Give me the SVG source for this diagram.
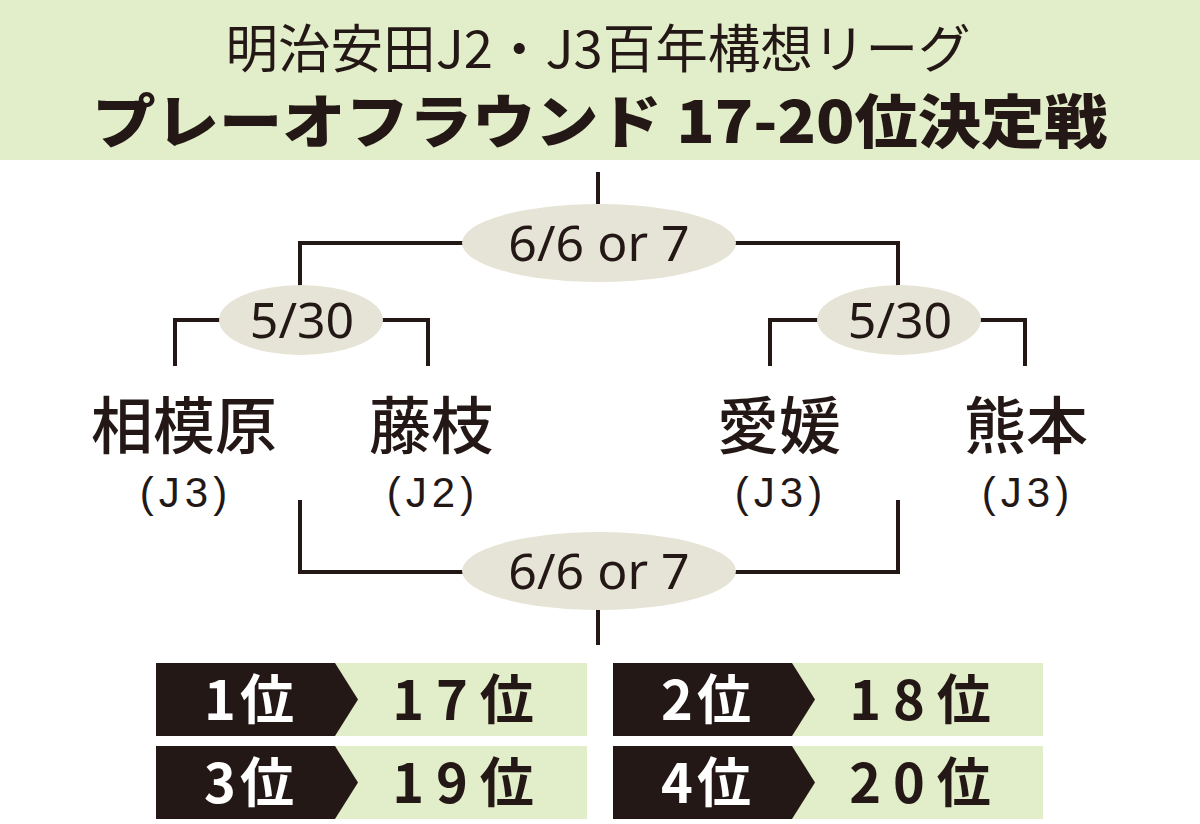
<svg xmlns="http://www.w3.org/2000/svg" width="1200" height="824" viewBox="0 0 1200 824">
<style>
.ln{stroke:#231815;stroke-width:4;fill:none}
.ov{fill:#e6e4d6}
.dt{font-family:"Noto Sans","Open Sans",sans-serif;font-size:50px;fill:#231815;text-anchor:middle}
.tm{font-family:"Noto Sans CJK JP",sans-serif;font-size:62px;font-weight:500;fill:#231815;text-anchor:middle}
.lg{font-family:"Liberation Sans","Noto Sans",sans-serif;font-size:42px;fill:#231815;text-anchor:middle;letter-spacing:5px}
.dk{fill:#231815}
.gr{fill:#e2edc9}
.rw{font-family:"Noto Sans CJK JP",sans-serif;font-size:54px;font-weight:700;fill:#fff;text-anchor:middle;letter-spacing:4px}
.rb{font-family:"Noto Sans CJK JP",sans-serif;font-size:54px;font-weight:700;fill:#231815;text-anchor:middle;letter-spacing:12px}
</style>
<rect width="1200" height="824" fill="#fff"/>
<g id="header">
<rect x="0" y="0" width="1200" height="160" fill="#e2edc9"/>
<text x="598" y="68" font-family="Noto Sans CJK JP,sans-serif" font-size="52" fill="#231815" text-anchor="middle" textLength="745" lengthAdjust="spacingAndGlyphs">明治安田J2・J3百年構想リーグ</text>
<text x="600" y="143" font-family="Noto Sans CJK JP,sans-serif" font-size="58" font-weight="900" fill="#231815" text-anchor="middle" textLength="1015" lengthAdjust="spacingAndGlyphs">プレーオフラウンド 17-20位決定戦</text>
</g>
<g id="connectors">
<path class="ln" d="M598 172V210"/>
<path class="ln" d="M300 290V243H898V290"/>
<path class="ln" d="M175 366V320H428V366"/>
<path class="ln" d="M770 366V320H1025V366"/>
<path class="ln" d="M300 500V572H898V500"/>
<path class="ln" d="M598 605V645"/>
</g>
<g id="final-top">
<ellipse class="ov" cx="599" cy="243" rx="137" ry="39"/>
<text class="dt" x="599" y="261">6/6 or 7</text>
</g>
<g id="semi-left">
<ellipse class="ov" cx="301" cy="320" rx="82" ry="35"/>
<text class="dt" x="302" y="338">5/30</text>
</g>
<g id="semi-right">
<ellipse class="ov" cx="899" cy="320" rx="82" ry="35"/>
<text class="dt" x="900" y="338">5/30</text>
</g>
<g id="final-bottom">
<ellipse class="ov" cx="599" cy="571" rx="137" ry="39"/>
<text class="dt" x="599" y="589">6/6 or 7</text>
</g>
<g id="team-sagamihara">
<text class="tm" x="184" y="449">相模原</text>
<text class="lg" x="186" y="507">(J3)</text>
</g>
<g id="team-fujieda">
<text class="tm" x="431" y="449">藤枝</text>
<text class="lg" x="433" y="507">(J2)</text>
</g>
<g id="team-ehime">
<text class="tm" x="779" y="449">愛媛</text>
<text class="lg" x="781" y="507">(J3)</text>
</g>
<g id="team-kumamoto">
<text class="tm" x="1026" y="449">熊本</text>
<text class="lg" x="1028" y="507">(J3)</text>
</g>
<g id="result-1">
<rect class="gr" x="330" y="663" width="257" height="73"/>
<path class="dk" d="M156 663H335L358 699.5L335 736H156Z"/>
<text class="rw" x="251" y="720">1位</text>
<text class="rb" x="469" y="720">17位</text>
</g>
<g id="result-2">
<rect class="gr" x="787" y="663" width="256" height="73"/>
<path class="dk" d="M613 663H792L815 699.5L792 736H613Z"/>
<text class="rw" x="708" y="720">2位</text>
<text class="rb" x="926" y="720">18位</text>
</g>
<g id="result-3">
<rect class="gr" x="330" y="746" width="257" height="73"/>
<path class="dk" d="M156 746H335L358 782.5L335 819H156Z"/>
<text class="rw" x="251" y="803">3位</text>
<text class="rb" x="469" y="803">19位</text>
</g>
<g id="result-4">
<rect class="gr" x="787" y="746" width="256" height="73"/>
<path class="dk" d="M613 746H792L815 782.5L792 819H613Z"/>
<text class="rw" x="708" y="803">4位</text>
<text class="rb" x="926" y="803">20位</text>
</g>
</svg>
